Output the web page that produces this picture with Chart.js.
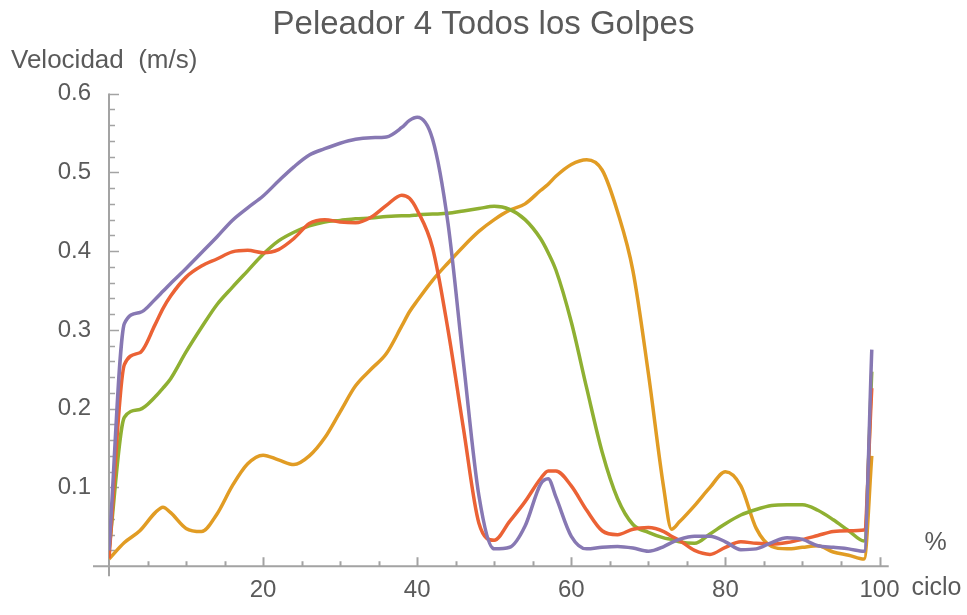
<!DOCTYPE html>
<html lang="es">
<head>
    <meta charset="UTF-8" />
    <title>Peleador 4 Todos los Golpes</title>
    <script src="https://cdn.jsdelivr.net/npm/chart.js"></script>
    <style>
        html, body { margin: 0; padding: 0; background: #fff; }
        canvas { display: block; }
    </style>
</head>
<body>
    <canvas id="velChart" width="967" height="615"></canvas>

    <script>
    // % del ciclo (eje x)
    const ciclo = [0, 2, 4, 6, 7, 8, 10, 12, 14, 16, 18, 20, 22, 24, 26, 28, 30, 32, 34, 36, 38, 39,
        40, 42, 44, 46, 48, 50, 52, 54, 56, 57, 58, 60, 62, 64, 66, 68, 70, 72, 73, 74, 76, 78,
        80, 82, 84, 86, 88, 90, 92, 94, 96, 98, 99];

    // velocidades (m/s)
    const morado = [0.020, 0.308, 0.322, 0.339, 0.349, 0.359, 0.378, 0.398, 0.418, 0.439, 0.455, 0.470,
        0.489, 0.507, 0.522, 0.530, 0.537, 0.542, 0.544, 0.545, 0.557, 0.566,
        0.570, 0.542, 0.435, 0.259, 0.090, 0.022, 0.024, 0.051, 0.104, 0.111, 0.088, 0.038,
        0.022, 0.024, 0.025, 0.023, 0.019, 0.025, 0.030, 0.034, 0.038, 0.038,
        0.031, 0.021, 0.022, 0.030, 0.036, 0.034, 0.026, 0.024, 0.022, 0.019, 0.275];

    const rojo = [0.010, 0.256, 0.271, 0.307, 0.327, 0.343, 0.367, 0.381, 0.390, 0.399, 0.401, 0.398,
        0.402, 0.416, 0.435, 0.440, 0.437, 0.436, 0.443, 0.458, 0.471, 0.467,
        0.452, 0.404, 0.300, 0.175, 0.055, 0.033, 0.057, 0.082, 0.111, 0.121, 0.121, 0.102,
        0.071, 0.045, 0.040, 0.047, 0.049, 0.044, 0.038, 0.033, 0.020, 0.015,
        0.024, 0.031, 0.029, 0.028, 0.030, 0.034, 0.039, 0.044, 0.045, 0.046, 0.226];

    const verde = [0.020, 0.189, 0.199, 0.215, 0.226, 0.238, 0.272, 0.303, 0.332, 0.354, 0.375, 0.396,
        0.413, 0.424, 0.432, 0.437, 0.439, 0.441, 0.442, 0.444, 0.445, 0.445,
        0.446, 0.447, 0.448, 0.451, 0.454, 0.457, 0.453, 0.440, 0.416, 0.398, 0.376, 0.310,
        0.226, 0.145, 0.086, 0.053, 0.043, 0.036, 0.034, 0.031, 0.029, 0.041,
        0.054, 0.065, 0.072, 0.077, 0.078, 0.078, 0.071, 0.059, 0.045, 0.032, 0.247];

    const naranja = [0.009, 0.030, 0.045, 0.068, 0.075, 0.068, 0.048, 0.044, 0.066, 0.102, 0.130, 0.141,
        0.135, 0.129, 0.140, 0.163, 0.196, 0.229, 0.250, 0.270, 0.305, 0.323,
        0.337, 0.363, 0.385, 0.406, 0.425, 0.440, 0.452, 0.460, 0.477, 0.485, 0.495, 0.510,
        0.516, 0.503, 0.450, 0.375, 0.245, 0.099, 0.047, 0.056, 0.077, 0.100,
        0.120, 0.102, 0.048, 0.025, 0.022, 0.024, 0.026, 0.018, 0.014, 0.009, 0.140];

    const xTicks = [20, 40, 60, 80, 100];
    const yTicks = [0.1, 0.2, 0.3, 0.4, 0.5, 0.6];

    const FONT = '"Liberation Sans", Arial, sans-serif';
    const GRIS = '#5a5a5a';
    const EJE = '#a3a3a3';

    const puntos = vals => ciclo.map((c, i) => ({ x: c, y: vals[i] }));

    function serie(vals, color) {
        return {
            data: puntos(vals),
            borderColor: color,
            borderWidth: 3.5,
            pointRadius: 0,
            fill: false,
            cubicInterpolationMode: 'monotone'
        };
    }

    // ejes al estilo Mathematica: lineas cruzadas y marcas hacia dentro
    const ejesPlugin = {
        id: 'ejes',
        beforeDatasetsDraw(chart) {
            const { ctx, scales: { x, y } } = chart;
            const x0 = x.getPixelForValue(0);
            const y0 = y.getPixelForValue(0);
            ctx.save();
            ctx.strokeStyle = EJE;
            ctx.lineWidth = 2;
            ctx.beginPath();
            ctx.moveTo(x0 - 16, y0);
            ctx.lineTo(x.getPixelForValue(101.2), y0);
            ctx.moveTo(x0, y.getPixelForValue(0.6));
            ctx.lineTo(x0, y0 + 10);
            // marcas eje x
            for (let i = 1; i <= 20; i++) {
                const px = Math.round(x.getPixelForValue(i * 5)) + 0.5;
                const len = i % 4 === 0 ? 9 : 5;
                ctx.moveTo(px, y0);
                ctx.lineTo(px, y0 - len);
            }
            ctx.stroke();
            ctx.lineWidth = 1.5;
            ctx.beginPath();
            for (let i = 1; i <= 30; i++) {
                const py = Math.round(y.getPixelForValue(i * 0.02)) + 0.5;
                const len = i % 5 === 0 ? 10 : 6;
                ctx.moveTo(x0, py);
                ctx.lineTo(x0 + len, py);
            }
            ctx.stroke();
            ctx.restore();
        },
        afterDraw(chart) {
            const { ctx, chartArea, scales: { x } } = chart;
            ctx.save();
            ctx.fillStyle = GRIS;
            ctx.font = '26px ' + FONT;
            ctx.textBaseline = 'middle';
            ctx.textAlign = 'left';
            ctx.fillText('Velocidad  (m/s)', 11, chartArea.top - 33);
            const px = x.getPixelForValue(100);
            ctx.font = '25px ' + FONT;
            ctx.textAlign = 'center';
            ctx.fillText('%', px + 56, chartArea.bottom - 23);
            ctx.fillText('ciclo', px + 57, chartArea.bottom + 22);
            ctx.restore();
        }
    };

    const ctx = document.getElementById('velChart').getContext('2d');
    new Chart(ctx, {
        type: 'line',
        data: {
            datasets: [
                serie(morado, '#8778B3'),
                serie(rojo, '#EB6235'),
                serie(verde, '#8FB032'),
                serie(naranja, '#E19C24')
            ]
        },
        options: {
            responsive: false,
            animation: false,
            devicePixelRatio: 1,
            layout: { padding: { left: 0, right: 0, top: 0, bottom: 0 } },
            plugins: {
                legend: { display: false },
                tooltip: { enabled: false },
                title: {
                    display: true,
                    text: 'Peleador 4 Todos los Golpes',
                    color: GRIS,
                    font: { family: FONT, size: 33, weight: 'normal' },
                    padding: { top: 5, bottom: 49 }
                }
            },
            scales: {
                x: {
                    type: 'linear',
                    min: 0,
                    max: 100,
                    grid: { display: false, drawTicks: false },
                    border: { display: false },
                    afterBuildTicks: s => { s.ticks = xTicks.map(v => ({ value: v })); },
                    ticks: {
                        color: GRIS,
                        padding: 10,
                        maxRotation: 0,
                        font: { family: FONT, size: 24 }
                    }
                },
                y: {
                    type: 'linear',
                    min: 0,
                    max: 0.6,
                    grid: { display: false, drawTicks: false },
                    border: { display: false },
                    afterBuildTicks: s => { s.ticks = yTicks.map(v => ({ value: v })); },
                    afterFit: s => { s.width = 109; },
                    ticks: {
                        color: GRIS,
                        padding: 18,
                        font: { family: FONT, size: 24 },
                        callback: v => v.toFixed(1)
                    }
                },
                derecha: {
                    type: 'linear',
                    position: 'right',
                    grid: { display: false, drawTicks: false },
                    border: { display: false },
                    ticks: { display: false },
                    afterFit: s => { s.width = 87.5; }
                }
            }
        },
        plugins: [ejesPlugin]
    });
    </script>
</body>
</html>
